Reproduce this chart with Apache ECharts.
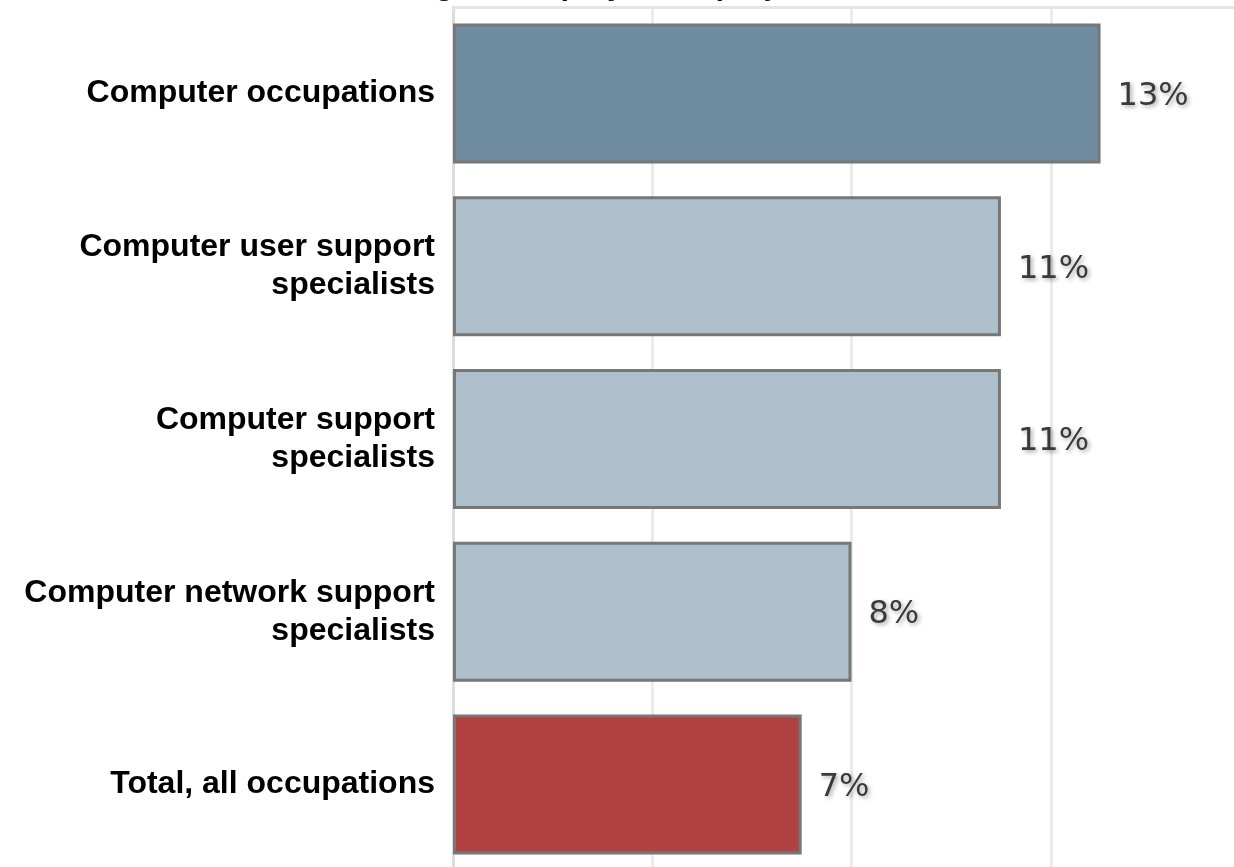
<!DOCTYPE html>
<html>
<head>
<meta charset="utf-8">
<title>Percent change in employment, projected 2014–24</title>
<script src="https://cdn.jsdelivr.net/npm/echarts@6/dist/echarts.min.js"></script>
<style>
  html, body { margin: 0; padding: 0; background: #fff; overflow: hidden; }
  /* canvas runs past the window edge so the value scale keeps going off the right and bottom */
  #chart { width: 1270px; height: 880px; }
</style>
</head>
<body>
<div id="chart"></div>
<script>
// Occupations, top to bottom
const categories = [
  'Computer occupations',
  'Computer user support\nspecialists',
  'Computer support\nspecialists',
  'Computer network support\nspecialists',
  'Total, all occupations'
];
// Projected employment change, percent
const values = [13, 11, 11, 8, 7];
// Value axis
const axisMin = 0;
const axisMax = 16;
const axisStep = 4;

// Fill per bar: group total in dark slate, detail occupations light, all occupations red
const fills = ['#6f8ba0', '#adbfcb', '#adbfcb', '#adbfcb', '#b24242'];

const chart = echarts.init(document.getElementById('chart'));
chart.setOption({
  animation: false,
  backgroundColor: '#ffffff',
  title: {
    text: 'Percent change in employment, projected 2014–24',
    left: 235,
    top: -35,
    textStyle: {
      fontFamily: 'Liberation Sans, Arial, sans-serif',
      fontWeight: 'bold',
      fontSize: 31,
      color: '#111'
    }
  },
  grid: {
    left: 453,
    top: 7,
    width: 797,
    height: 864,
    containLabel: false
  },
  xAxis: {
    type: 'value',
    position: 'top',
    min: axisMin,
    max: axisMax,
    interval: axisStep,
    axisLine: { show: true, lineStyle: { color: '#e4e4e4', width: 3 } },
    axisTick: { show: false },
    axisLabel: { show: false },
    splitLine: { show: true, lineStyle: { color: '#ebebeb', width: 3 } }
  },
  yAxis: {
    type: 'category',
    data: categories,
    inverse: true,
    axisLine: { show: true, lineStyle: { color: '#dddddd', width: 3 } },
    axisTick: { show: false },
    splitLine: { show: false },
    axisLabel: {
      margin: 18,
      align: 'right',
      padding: [4, 0, 0, 0],
      fontFamily: 'Liberation Sans, Arial, sans-serif',
      fontWeight: 'bold',
      fontSize: 32,
      lineHeight: 38,
      color: '#000'
    }
  },
  series: [{
    type: 'bar',
    data: values,
    barCategoryGap: '19%',
    itemStyle: {
      color: (p) => fills[p.dataIndex],
      borderColor: '#777777',
      borderWidth: 3
    },
    label: {
      show: true,
      position: 'right',
      distance: 17,
      offset: [0, 3],
      formatter: (p) => p.value + '%',
      fontFamily: 'DejaVu Sans, Verdana, sans-serif',
      fontSize: 32,
      color: '#3a3a3a',
      textShadowColor: 'rgba(0,0,0,0.35)',
      textShadowBlur: 4,
      textShadowOffsetX: 2,
      textShadowOffsetY: 2
    }
  }]
});
</script>
</body>
</html>
